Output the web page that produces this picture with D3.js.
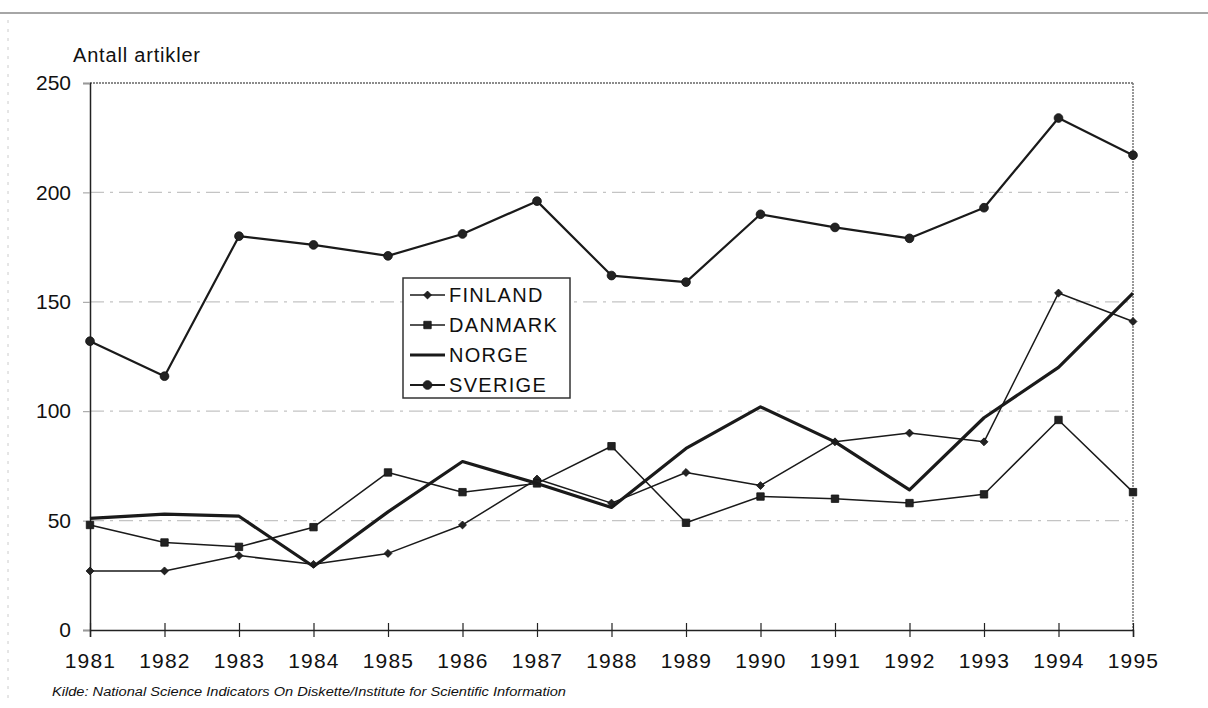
<!DOCTYPE html>
<html>
<head>
<meta charset="utf-8">
<script src="https://cdn.jsdelivr.net/npm/d3@7"></script>
<style>
  body { margin: 0; background: #fff; }
  svg text { font-family: "Liberation Sans", Arial, sans-serif; fill: #111; }
</style>
</head>
<body>
<svg id="chart" width="1208" height="708"></svg>
<script>
const years = [1981,1982,1983,1984,1985,1986,1987,1988,1989,1990,1991,1992,1993,1994,1995];
const finland = [27,27,34,30,35,48,69,58,72,66,86,90,86,154,141];
const danmark = [48,40,38,47,72,63,67,84,49,61,60,58,62,96,63];
const norge   = [51,53,52,29,54,77,67,56,83,102,86,64,97,120,154];
const sverige = [132,116,180,176,171,181,196,162,159,190,184,179,193,234,217];
const yTicks = [0,50,100,150,200,250];
const seriesNames = ["FINLAND","DANMARK","NORGE","SVERIGE"];
const yTitle = "Antall artikler";
const source = "Kilde: National Science Indicators On Diskette/Institute for Scientific Information";

const series = [
  {name: seriesNames[0], values: finland, width: 1.5, marker: "diamond"},
  {name: seriesNames[1], values: danmark, width: 1.5, marker: "square"},
  {name: seriesNames[2], values: norge,   width: 3.2, marker: null},
  {name: seriesNames[3], values: sverige, width: 2.2, marker: "circle"}
];

const svg = d3.select("#chart");
const L = 90, R = 1133, T = 83, B = 630;
const x = d3.scaleLinear().domain([years[0], years[years.length-1]]).range([L, R]);
const y = d3.scaleLinear().domain([0, 250]).range([B, T]);

// page frame lines
svg.append("line").attr("x1",0).attr("x2",1208).attr("y1",13).attr("y2",13)
  .attr("stroke","#888").attr("stroke-width",1.5);
svg.append("line").attr("x1",8).attr("x2",8).attr("y1",20).attr("y2",700)
  .attr("stroke","#ccc").attr("stroke-width",1).attr("stroke-dasharray","3,6");

// gridlines
svg.append("g").selectAll("line").data(yTicks.filter(d => d > 0 && d < 250)).join("line")
  .attr("x1", L).attr("x2", R).attr("y1", d => y(d)).attr("y2", d => y(d))
  .attr("stroke", "#c4c4c4").attr("stroke-width", 1.2).attr("stroke-dasharray", "14,6,3,6");
// top border
svg.append("line").attr("x1", L).attr("x2", R).attr("y1", y(250)).attr("y2", y(250))
  .attr("stroke", "#666").attr("stroke-width", 1.5).attr("stroke-dasharray", "2,1");
// right border
svg.append("line").attr("x1", R).attr("x2", R).attr("y1", y(250)).attr("y2", B)
  .attr("stroke", "#777").attr("stroke-width", 1.5).attr("stroke-dasharray", "2,1");

// y axis
const yAxis = d3.axisLeft(y).tickValues(yTicks).tickSize(7).tickPadding(12);
const gy = svg.append("g").attr("transform", `translate(${L},0)`).call(yAxis);
gy.select(".domain").attr("stroke", "#222").attr("stroke-width", 1.5);
gy.selectAll(".tick line").attr("stroke", "#999");
gy.selectAll("text").style("font-size", "21px").attr("fill", "#111");

// x axis
const xAxis = d3.axisBottom(x).tickValues(years).tickFormat(d3.format("d")).tickSize(7).tickPadding(16);
const gx = svg.append("g").attr("transform", `translate(0,${B})`).call(xAxis);
gx.select(".domain").attr("stroke", "#222").attr("stroke-width", 1.5);
gx.selectAll(".tick line").attr("y1", -7).attr("stroke", "#222").attr("stroke-width", 1.2);
gx.selectAll("text").style("font-size", "21px").style("letter-spacing", "1.2px").attr("fill", "#111");

// y title
svg.append("text").attr("x", 73).attr("y", 62).style("font-size", "20px")
  .attr("textLength", 127).text(yTitle);

// source
svg.append("text").attr("x", 52).attr("y", 696).style("font-size", "12px")
  .style("font-style", "italic").attr("textLength", 514).attr("lengthAdjust", "spacingAndGlyphs")
  .text(source);

const sym = {
  diamond: d3.symbol().type(d3.symbolDiamond2).size(40),
  square: d3.symbol().type(d3.symbolSquare).size(55),
  circle: d3.symbol().type(d3.symbolCircle).size(60)
};

const line = d3.line().x((d, i) => x(years[i])).y(d => y(d));
series.forEach(s => {
  svg.append("path").datum(s.values).attr("d", line)
    .attr("fill", "none").attr("stroke", "#1a1a1a").attr("stroke-width", s.width)
    .attr("stroke-linejoin", "round");
  if (s.marker) {
    svg.append("g").selectAll("path").data(s.values).join("path")
      .attr("d", sym[s.marker])
      .attr("transform", (d, i) => `translate(${x(years[i])},${y(d)})`)
      .attr("fill", "#222").attr("stroke", "#111").attr("stroke-width", 0.8);
  }
});

// legend
const lg = svg.append("g");
lg.append("rect").attr("x", 403).attr("y", 278).attr("width", 167).attr("height", 120)
  .attr("fill", "#fff").attr("stroke", "#333").attr("stroke-width", 1.5);
series.forEach((s, i) => {
  const yy = 295 + i * 30;
  lg.append("line").attr("x1", 410).attr("x2", 445).attr("y1", yy).attr("y2", yy)
    .attr("stroke", "#1a1a1a").attr("stroke-width", s.width);
  if (s.marker) {
    lg.append("path").attr("d", sym[s.marker]).attr("transform", `translate(427.5,${yy})`)
      .attr("fill", "#222").attr("stroke", "#111").attr("stroke-width", 0.8);
  }
  lg.append("text").attr("x", 449).attr("y", yy + 7).style("font-size", "20px")
    .style("letter-spacing", "1.3px").text(s.name);
});
</script>
</body>
</html>
